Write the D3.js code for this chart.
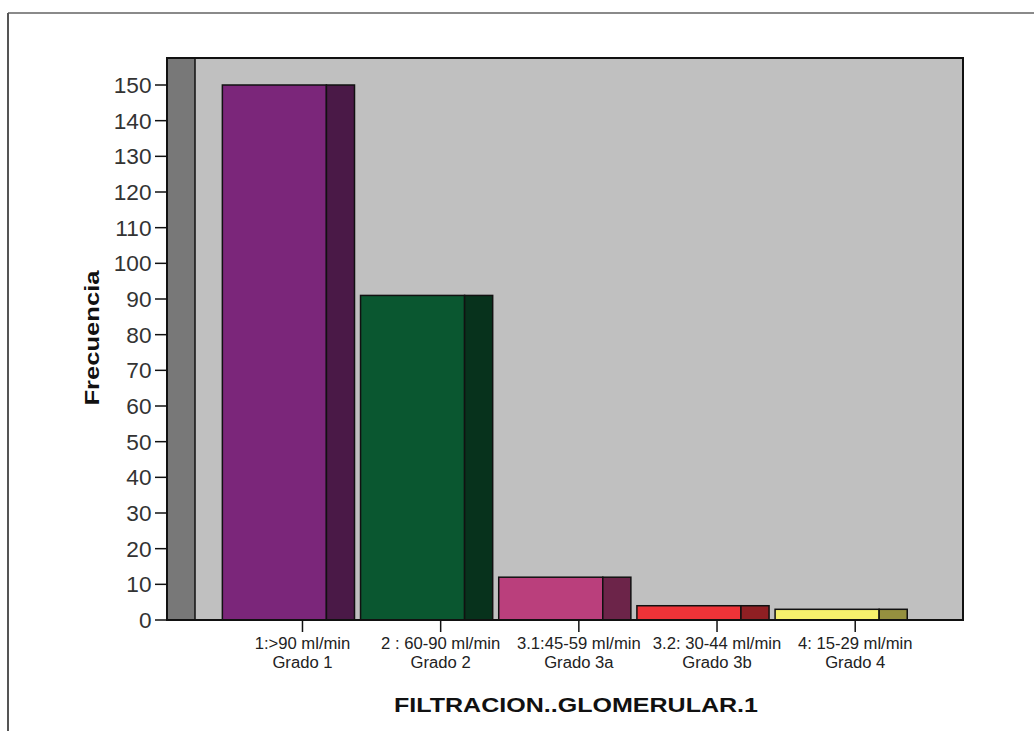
<!DOCTYPE html>
<html>
<head>
<meta charset="utf-8">
<script src="https://cdn.jsdelivr.net/npm/d3@7"></script>
<style>
  html, body { margin: 0; padding: 0; background: #fff; }
  svg { display: block; }
  text { font-family: "Liberation Sans", Arial, sans-serif; }
</style>
</head>
<body>
<svg id="chart" width="1034" height="731"></svg>
<script>
// Category labels (two lines each) and frequencies
const gradeRanges = ["1:>90 ml/min", "2 : 60-90 ml/min", "3.1:45-59 ml/min", "3.2: 30-44 ml/min", "4: 15-29 ml/min"];
const gradeNames  = ["Grado 1", "Grado 2", "Grado 3a", "Grado 3b", "Grado 4"];
const frequencies = [150, 91, 12, 4, 3];
const frontColors = ["#7b267a", "#0a5730", "#ba3f7c", "#ee3338", "#f6f16c"];
const sideColors  = ["#4a1947", "#07321c", "#6c2449", "#8f1f23", "#95903f"];
const yTicks = d3.range(0, 151, 10);

const svg = d3.select("#chart");

// Outer frame
svg.append("line").attr("x1", 8).attr("x2", 1034).attr("y1", 13).attr("y2", 13)
  .attr("stroke", "#8a8a8a").attr("stroke-width", 2);
svg.append("line").attr("x1", 8).attr("x2", 8).attr("y1", 13).attr("y2", 731)
  .attr("stroke", "#555").attr("stroke-width", 2);

// Plot geometry
const wallLeft = 167, backLeft = 195, plotRight = 963, plotTop = 58, floorY = 620;

const y = d3.scaleLinear().domain([0, 150]).range([floorY, 85]);
const x = d3.scaleBand().domain(gradeRanges)
  .range([backLeft, 906.5]).paddingInner(0.247).paddingOuter(0.198);
const depth = x.bandwidth() * 0.27;

// Back panel and side wall
svg.append("rect").attr("x", backLeft).attr("y", plotTop)
  .attr("width", plotRight - backLeft).attr("height", floorY - plotTop)
  .attr("fill", "#c0c0c0");
svg.append("rect").attr("x", wallLeft).attr("y", plotTop)
  .attr("width", backLeft - wallLeft).attr("height", floorY - plotTop)
  .attr("fill", "#787878").attr("stroke", "#111").attr("stroke-width", 1.5);

// Bars: front face plus darker side face
const bars = svg.append("g").selectAll("g").data(frequencies).join("g");
bars.append("rect")
  .attr("x", (d, i) => x(gradeRanges[i]))
  .attr("y", d => y(d))
  .attr("width", x.bandwidth())
  .attr("height", d => floorY - y(d))
  .attr("fill", (d, i) => frontColors[i])
  .attr("stroke", "#111").attr("stroke-width", 1.5);
bars.append("rect")
  .attr("x", (d, i) => x(gradeRanges[i]) + x.bandwidth())
  .attr("y", d => y(d))
  .attr("width", depth)
  .attr("height", d => floorY - y(d))
  .attr("fill", (d, i) => sideColors[i])
  .attr("stroke", "#111").attr("stroke-width", 1.5);

// Panel outline
svg.append("rect").attr("x", wallLeft).attr("y", plotTop)
  .attr("width", plotRight - wallLeft).attr("height", floorY - plotTop)
  .attr("fill", "none").attr("stroke", "#111").attr("stroke-width", 2);

// Y axis ticks and labels
const yAxis = svg.append("g");
yAxis.selectAll("line").data(yTicks).join("line")
  .attr("x1", 155).attr("x2", wallLeft)
  .attr("y1", d => y(d)).attr("y2", d => y(d))
  .attr("stroke", "#111").attr("stroke-width", 1.5);
yAxis.selectAll("text").data(yTicks).join("text")
  .attr("transform", d => `translate(151.5,${y(d) + 8}) scale(1.03,1)`)
  .attr("text-anchor", "end")
  .attr("font-size", 22)
  .attr("fill", "#333")
  .text(d => d);

// X axis ticks and two-line category labels
const tickX = c => x(c) + x.bandwidth() * 0.77;
const xAxis = svg.append("g");
xAxis.selectAll("line").data(gradeRanges).join("line")
  .attr("x1", tickX).attr("x2", tickX)
  .attr("y1", floorY).attr("y2", 632)
  .attr("stroke", "#111").attr("stroke-width", 1.5);
const xl = xAxis.selectAll("text").data(gradeRanges).join("text")
  .attr("transform", c => `translate(${tickX(c)},0) scale(1.04,1)`)
  .attr("text-anchor", "middle")
  .attr("font-size", 16)
  .attr("fill", "#222");
xl.append("tspan").attr("x", 0).attr("y", 649).text(c => c);
xl.append("tspan").attr("x", 0).attr("y", 668).text((c, i) => gradeNames[i]);

// Axis titles
svg.append("text")
  .attr("transform", "translate(99,338) rotate(-90)")
  .attr("text-anchor", "middle")
  .attr("font-size", 20).attr("font-weight", "bold").attr("fill", "#111")
  .attr("textLength", 135).attr("lengthAdjust", "spacingAndGlyphs")
  .text("Frecuencia");
svg.append("text")
  .attr("x", 576).attr("y", 712)
  .attr("text-anchor", "middle")
  .attr("font-size", 20).attr("font-weight", "bold").attr("fill", "#111")
  .attr("textLength", 364).attr("lengthAdjust", "spacingAndGlyphs")
  .text("FILTRACION..GLOMERULAR.1");
</script>
</body>
</html>
